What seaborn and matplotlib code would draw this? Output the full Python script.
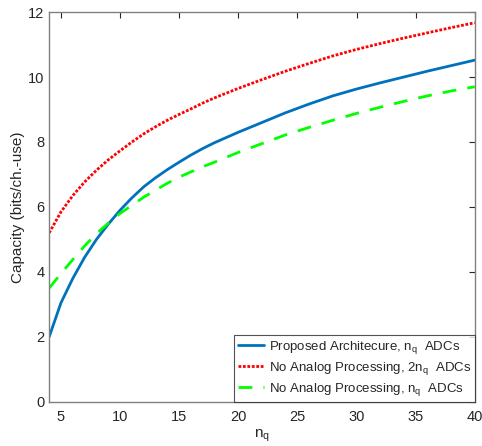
import matplotlib
matplotlib.use("Agg")
import matplotlib.pyplot as plt
import seaborn as sns
import pandas as pd

n_q = [4, 5, 6, 7, 8, 9, 10, 11, 12, 13, 14, 15, 16, 17, 18, 20, 22, 24, 26, 28, 30, 32, 34, 36, 38, 40]
proposed = [2.0, 3.05, 3.8, 4.45, 5.0, 5.47, 5.9, 6.28, 6.62, 6.9, 7.15, 7.38, 7.6, 7.8, 7.98,
            8.3, 8.6, 8.9, 9.17, 9.42, 9.63, 9.82, 10.0, 10.18, 10.35, 10.52]
no_analog_2nq = [5.2, 5.85, 6.35, 6.77, 7.13, 7.45, 7.73, 8.0, 8.25, 8.47, 8.67, 8.85, 9.02, 9.2, 9.36,
                 9.65, 9.92, 10.18, 10.42, 10.65, 10.85, 11.03, 11.2, 11.36, 11.52, 11.67]
no_analog_nq = [3.5, 3.95, 4.38, 4.8, 5.18, 5.5, 5.8, 6.05, 6.3, 6.52, 6.73, 6.92, 7.08, 7.24, 7.38,
                7.68, 7.95, 8.22, 8.45, 8.67, 8.88, 9.07, 9.25, 9.42, 9.57, 9.7]

labels = [r"Proposed Architecure, n$_\mathregular{q}$  ADCs",
          r"No Analog Processing, 2n$_\mathregular{q}$  ADCs",
          r"No Analog Processing, n$_\mathregular{q}$  ADCs"]

df = pd.concat([
    pd.DataFrame({"n": n_q, "C": proposed, "s": labels[0]}),
    pd.DataFrame({"n": n_q, "C": no_analog_2nq, "s": labels[1]}),
    pd.DataFrame({"n": n_q, "C": no_analog_nq, "s": labels[2]}),
])

sns.set_style("white")
plt.rcParams['font.family'] = ['Liberation Sans', 'DejaVu Sans']
plt.rcParams['mathtext.fontset'] = 'custom'
plt.rcParams['mathtext.rm'] = 'Liberation Sans'

fig = plt.figure(figsize=(4.82, 4.46), dpi=100)
ax = fig.add_axes([0.102, 0.099, 0.883, 0.874])

palette = {labels[0]: "#0072BD", labels[1]: "#FF0000", labels[2]: "#00FF00"}
sns.lineplot(data=df, x="n", y="C", hue="s", palette=palette, ax=ax, legend=False)
for line, lab in zip(ax.lines, labels):
    line.set_linewidth(2.0)
    line.set_label(lab)
ax.lines[0].set_linestyle("-")
ax.lines[1].set_dashes([1, 0.6])
ax.lines[2].set_dashes([5, 4])

ax.set_xlim(4, 40)
ax.set_ylim(0, 12)
ax.set_xticks([5, 10, 15, 20, 25, 30, 35, 40])
ax.set_yticks([0, 2, 4, 6, 8, 10, 12])
ax.set_xlabel(r"n$_\mathregular{q}$", fontsize=11, labelpad=2)
ax.set_ylabel("Capacity (bits/ch.-use)", fontsize=11, labelpad=2)
ax.tick_params(axis="x", pad=6)
ax.tick_params(direction="in", length=4, width=0.8, colors="#262626", labelsize=10.5,
               top=True, right=True, labelcolor="#262626")
for sp in ax.spines.values():
    sp.set_color("#808080")
    sp.set_linewidth(1.0)

leg = ax.legend(loc="lower right", fontsize=9.5, frameon=True, fancybox=False,
                borderaxespad=0, handlelength=2.0, handletextpad=0.35,
                labelspacing=0.3, borderpad=0.3)
leg.get_frame().set_edgecolor("#262626")
leg.get_frame().set_linewidth(0.8)

fig.savefig("out.png", dpi=100)
